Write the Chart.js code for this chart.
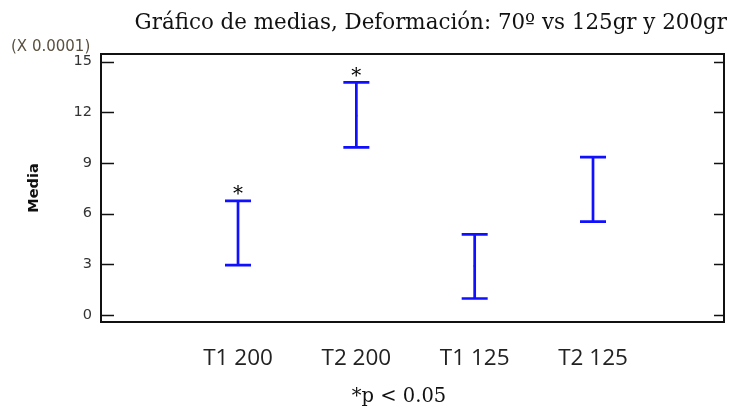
<!DOCTYPE html>
<html>
<head>
<meta charset="utf-8">
<script src="https://cdn.jsdelivr.net/npm/chart.js@4"></script>
<style>
  html, body { margin: 0; padding: 0; background: #fff; }
  #wrap { width: 732px; height: 411px; }
</style>
</head>
<body>
<div id="wrap"><canvas id="chart" width="732" height="411"></canvas></div>
<script>
// data (units of 0.0001)
const categories = ['T1 200', 'T2 200', 'T1 125', 'T2 125'];
const positions = [1, 2, 3, 4];
const means = [4.9, 11.8, 2.9, 7.4];
const lower = [2.95, 9.93, 0.98, 5.53];
const upper = [6.76, 13.77, 4.78, 9.35];
const significant = [true, true, false, false];
const yTicks = [0, 3, 6, 9, 12, 15];

const errorBars = {
  id: 'errorBars',
  afterDatasetsDraw(chart) {
    const { ctx, scales: { x, y }, chartArea: a } = chart;
    ctx.save();
    // box
    ctx.strokeStyle = '#111';
    ctx.lineWidth = 2;
    ctx.strokeRect(a.left, a.top, a.right - a.left, a.bottom - a.top);
    // inward tick marks on both sides
    ctx.lineWidth = 1.5;
    yTicks.forEach(v => {
      const py = Math.round(y.getPixelForValue(v)) + 0.5;
      ctx.beginPath();
      ctx.moveTo(a.left, py); ctx.lineTo(a.left + 13, py);
      ctx.moveTo(a.right, py); ctx.lineTo(a.right - 10, py);
      ctx.stroke();
    });
    // error bars
    ctx.strokeStyle = '#1010ff';
    ctx.lineWidth = 2.7;
    positions.forEach((p, i) => {
      const px = x.getPixelForValue(p);
      const top = y.getPixelForValue(upper[i]);
      const bot = y.getPixelForValue(lower[i]);
      ctx.beginPath();
      ctx.moveTo(px, top); ctx.lineTo(px, bot);
      ctx.moveTo(px - 13, top); ctx.lineTo(px + 13, top);
      ctx.moveTo(px - 13, bot); ctx.lineTo(px + 13, bot);
      ctx.stroke();
      if (significant[i]) {
        ctx.fillStyle = '#000';
        ctx.font = '20px "DejaVu Serif", serif';
        ctx.textAlign = 'center';
        ctx.textBaseline = 'middle';
        ctx.fillText('*', px, top - 6);
      }
    });
    // texts
    ctx.fillStyle = '#111';
    ctx.font = '21.4px "DejaVu Serif", serif';
    ctx.textAlign = 'right';
    ctx.textBaseline = 'alphabetic';
    ctx.fillText('Gráfico de medias, Deformación: 70º vs 125gr y 200gr', 727, 29);
    ctx.textAlign = 'center';
    ctx.font = '19.5px "DejaVu Serif", serif';
    ctx.textBaseline = 'middle';
    ctx.fillText('*p < 0.05', 399, 397);
    ctx.fillStyle = '#5a5040';
    ctx.font = '15px "DejaVu Sans", sans-serif';
    ctx.textAlign = 'left';
    ctx.fillText('(X 0.0001)', 11, 47);
    ctx.fillStyle = '#111';
    ctx.font = 'bold 14.5px "DejaVu Sans", sans-serif';
    ctx.translate(34, 188);
    ctx.rotate(-Math.PI / 2);
    ctx.textAlign = 'center';
    ctx.fillText('Media', 0, 0);
    ctx.restore();
  }
};

new Chart(document.getElementById('chart'), {
  type: 'scatter',
  data: {
    datasets: [{
      label: 'Media',
      data: positions.map((p, i) => ({ x: p, y: means[i] })),
      pointStyle: 'rect',
      pointRadius: 1.4,
      pointBorderWidth: 0,
      pointBackgroundColor: '#b01050',
    }],
  },
  options: {
    responsive: false,
    animation: false,
    layout: { padding: { top: 54, right: 8, left: 0, bottom: 0 } },
    plugins: { legend: { display: false }, tooltip: { enabled: false } },
    scales: {
      x: {
        type: 'linear',
        min: -0.158, max: 5.107,
        afterFit: s => { s.height = 89; },
        afterBuildTicks: s => { s.ticks = positions.map(v => ({ value: v })); },
        grid: { display: false, drawTicks: false },
        border: { display: false },
        ticks: {
          padding: 23,
          color: '#222',
          font: { family: '"Open Sans", sans-serif', size: 22.5 },
          callback: (v) => categories[positions.indexOf(v)] || '',
        },
      },
      y: {
        min: -0.41, max: 15.45,
        afterFit: s => { s.width = 101; },
        afterBuildTicks: s => { s.ticks = yTicks.map(v => ({ value: v })); },
        grid: { display: false, drawTicks: false },
        border: { display: false },
        ticks: {
          padding: 9,
          color: '#333',
          font: { family: '"DejaVu Sans", sans-serif', size: 14.5 },
        },
      },
    },
  },
  plugins: [errorBars],
});
</script>
</body>
</html>
